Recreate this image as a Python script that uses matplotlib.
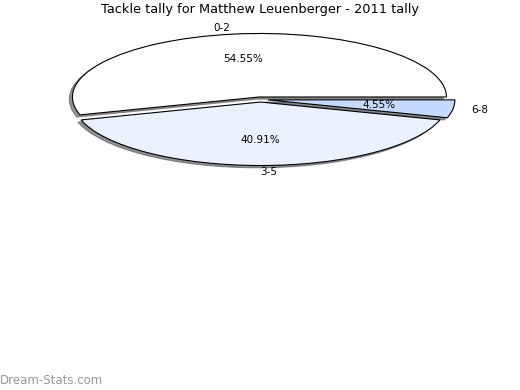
import matplotlib
matplotlib.use("Agg")
import matplotlib.pyplot as plt

# tackle tally data
labels = ["0-2", "3-5", "6-8"]
values = [12, 9, 1]
colors = ["#ffffff", "#ebf1ff", "#c6d9ff"]
explode = [0.04, 0.04, 0.04]

fig = plt.figure(figsize=(5.2, 3.9), dpi=100)
W, H = 520.0, 390.0

# ellipse centre / radii in pixels (stretched pie, no equal aspect)
cx, cy = 260.5, 99.5
rx, ry = 187.0, 63.5
lim = 1.3
ax = fig.add_axes([(cx - lim * rx) / W, (H - cy - lim * ry) / H,
                   2 * lim * rx / W, 2 * lim * ry / H])

wedges, texts, autotexts = ax.pie(values, labels=labels, colors=colors,
                                  explode=explode, autopct="%.2f%%",
                                  shadow={"ox": -0.012, "oy": -0.025, "shade": 0.6, "alpha": 0.7},
                                  startangle=0,
                                  wedgeprops={"edgecolor": "black", "linewidth": 0.8},
                                  textprops={"fontsize": 7.5})
ax.set_aspect("auto")
ax.set_xlim(-lim, lim)
ax.set_ylim(-lim, lim)

fig.text(0.5, 1 - 10 / H, "Tackle tally for Matthew Leuenberger - 2011 tally",
         ha="center", va="center", fontsize=9.3)
fig.text(0.0, 1 - 380 / H, "Dream-Stats.com", ha="left", va="center",
         fontsize=8.5, color="#999999")

fig.savefig("out.png", dpi=100)
